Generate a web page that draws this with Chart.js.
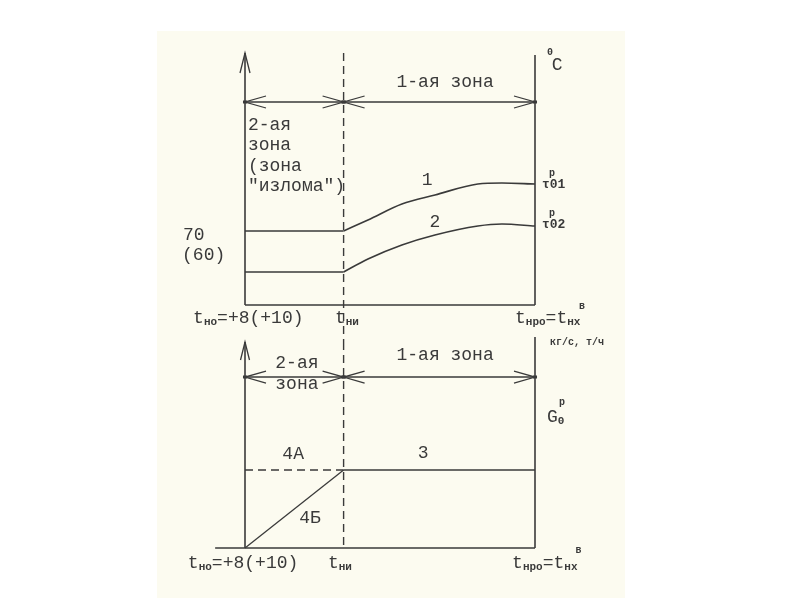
<!DOCTYPE html>
<html>
<head>
<meta charset="utf-8">
<script src="https://cdn.jsdelivr.net/npm/chart.js@4.4.0/dist/chart.umd.min.js"></script>
<style>
  body { margin: 0; width: 800px; height: 600px; background: #fff; position: relative; overflow: hidden; }
  #paper { position: absolute; left: 157px; top: 31px; width: 468px; height: 567px; background: #fcfbf0; }
  canvas { position: absolute; left: 0; top: 0; }
</style>
</head>
<body>
<div id="paper"></div>
<canvas id="grTop" width="800" height="600"></canvas>
<canvas id="grBot" width="800" height="600"></canvas>
<script>
// ось наружной температуры в условных единицах: tно = 0, tни = 3.4, tнро = 10
const xTicks = [0, 3.4, 10];
const xLeftExt = -1.03;

// верхний график - температура воды (условные единицы)
const flatX = [0, 3.4];
const tau01Flat = [37, 37];
const tau02Flat = [16.5, 16.5];
const curveX = [3.4, 4.24, 5.41, 6.55, 8.03, 8.86, 10];
const tau01 = [37, 42.5, 50.5, 55, 60.5, 61, 60.5];
const tau02 = [16.5, 23, 30, 35, 39.5, 40.5, 39.5];
const topAxisMax = 126;
const topRightMax = 125;
const topDim = 101.5;

// нижний график - расход
const flowConst = 39;      // линии 3 и 4А
const botAxisMax = 103;
const botRightMax = 105.5;
const botDim = 85.5;

const INK = '#3a3a3a';
const MONO = '"Liberation Mono", "DejaVu Sans Mono", monospace';

function seg(xs, ys, extra) {
  return Object.assign({
    data: xs.map((v, i) => ({ x: v, y: ys[i] })),
    borderColor: INK,
    borderWidth: 1.6,
    pointRadius: 0,
    fill: false,
    clip: false,
    tension: 0
  }, extra || {});
}

const fonts = {
  n: '18px ' + MONO,
  s: 'bold 11px ' + MONO,
  p: 'bold 10px ' + MONO,
  b: 'bold 13px ' + MONO,
  k: 'bold 10px ' + MONO
};

function drawRich(ctx, x, y, parts, align) {
  let w = 0;
  parts.forEach(p => { ctx.font = fonts[p[1]]; w += ctx.measureText(p[0]).width; });
  let cx = align === 'center' ? x - w / 2 : x;
  parts.forEach(p => {
    ctx.font = fonts[p[1]];
    ctx.textBaseline = 'middle';
    ctx.textAlign = 'left';
    const dy = p[1] === 's' ? 4 : 0;
    ctx.fillText(p[0], cx, y + dy);
    cx += ctx.measureText(p[0]).width;
  });
}

const drawings = {
  id: 'drawings',
  afterDatasetsDraw(chart, args, opts) {
    const { ctx } = chart;
    const sx = chart.scales.x, sy = chart.scales.y;
    ctx.save();
    ctx.strokeStyle = INK;
    ctx.fillStyle = INK;
    ctx.lineWidth = 1.3;
    (opts.arrows || []).forEach(a => {
      const px = sx.getPixelForValue(a.x), py = sy.getPixelForValue(a.y);
      ctx.beginPath();
      if (a.dir === 'up') {
        ctx.moveTo(px - a.w, py + a.l); ctx.lineTo(px, py); ctx.lineTo(px + a.w, py + a.l);
      } else {
        const s = a.dir === 'left' ? 1 : -1;
        ctx.moveTo(px + s * 21, py - 6); ctx.lineTo(px, py); ctx.lineTo(px + s * 21, py + 6);
        ctx.fillRect(px - 2, py - 1.5, 4, 3);
      }
      ctx.stroke();
    });
    (opts.texts || []).forEach(t => {
      drawRich(ctx, sx.getPixelForValue(t.x), sy.getPixelForValue(t.y), t.parts, t.align);
    });
    ctx.restore();
  }
};

function baseOptions(pad, yMax, extras) {
  return {
    responsive: false,
    animation: false,
    events: [],
    layout: { padding: pad },
    scales: {
      x: { type: 'linear', min: 0, max: 10, display: false },
      y: { type: 'linear', min: 0, max: yMax, display: false }
    },
    plugins: {
      legend: { display: false },
      tooltip: { enabled: false },
      drawings: extras
    }
  };
}

function dimArrows(yv) {
  return [
    { x: xTicks[0], y: yv, dir: 'left' },
    { x: xTicks[1], y: yv, dir: 'right' },
    { x: xTicks[1], y: yv, dir: 'left' },
    { x: xTicks[2], y: yv, dir: 'right' }
  ];
}

// ----- верхний график: температура -----
new Chart(document.getElementById('grTop'), {
  type: 'line',
  data: {
    datasets: [
      seg([xTicks[0], xTicks[0]], [0, topAxisMax]),
      seg([xTicks[2], xTicks[2]], [0, topRightMax]),
      seg([xTicks[0], xTicks[2]], [0, 0]),
      seg([xTicks[0], xTicks[2]], [topDim, topDim], { borderWidth: 1.4 }),
      seg([xTicks[1], xTicks[1]], [topAxisMax, -18.5], { borderDash: [8, 5], borderWidth: 1.4 }),
      seg(flatX, tau01Flat),
      seg(flatX, tau02Flat),
      seg(curveX, tau01, { cubicInterpolationMode: 'monotone' }),
      seg(curveX, tau02, { cubicInterpolationMode: 'monotone' })
    ]
  },
  options: baseOptions({ left: 245, right: 265, top: 53, bottom: 295 }, topAxisMax, {
    arrows: [{ x: xTicks[0], y: topAxisMax, dir: 'up', w: 5, l: 20 }].concat(dimArrows(topDim)),
    texts: [
      { x: 6.9, y: 111.5, align: 'center', parts: [['1-ая зона', 'n']] },
      { x: 10.52, y: 126.5, align: 'center', parts: [['0', 'p']] },
      { x: 10.76, y: 120, align: 'center', parts: [['C', 'n']] },
      { x: 0.1, y: 90, parts: [['2-ая', 'n']] },
      { x: 0.1, y: 80, parts: [['зона', 'n']] },
      { x: 0.1, y: 69.5, parts: [['(зона', 'n']] },
      { x: 0.1, y: 59.5, parts: [['"излома")', 'n']] },
      { x: 6.28, y: 62.5, align: 'center', parts: [['1', 'n']] },
      { x: 6.55, y: 41.5, align: 'center', parts: [['2', 'n']] },
      { x: -2.14, y: 35, parts: [['70', 'n']] },
      { x: -2.17, y: 25, parts: [['(60)', 'n']] },
      { x: 10.24, y: 60, parts: [['τ01', 'b']] },
      { x: 10.59, y: 66, align: 'center', parts: [['р', 'p']] },
      { x: 10.24, y: 40, parts: [['τ02', 'b']] },
      { x: 10.59, y: 46, align: 'center', parts: [['р', 'p']] },
      { x: -1.79, y: -6.5, parts: [['t', 'n'], ['но', 's'], ['=+8(+10)', 'n']] },
      { x: 3.1, y: -6.5, parts: [['t', 'n'], ['ни', 's']] },
      { x: 9.31, y: -6.5, parts: [['t', 'n'], ['нро', 's'], ['=t', 'n'], ['нх', 's']] },
      { x: 11.62, y: -0.5, align: 'center', parts: [['в', 'p']] }
    ]
  }),
  plugins: [drawings]
});

// ----- нижний график: расход -----
new Chart(document.getElementById('grBot'), {
  type: 'line',
  data: {
    datasets: [
      seg([xTicks[0], xTicks[0]], [0, botAxisMax]),
      seg([xTicks[2], xTicks[2]], [0, botRightMax]),
      seg([xLeftExt, xTicks[2]], [0, 0]),
      seg([xTicks[0], xTicks[2]], [botDim, botDim], { borderWidth: 1.4 }),
      seg([xTicks[1], xTicks[1]], [botAxisMax, 0], { borderDash: [8, 5], borderWidth: 1.4 }),
      seg([xTicks[1], xTicks[2]], [flowConst, flowConst]),
      seg([xTicks[0], xTicks[1]], [flowConst, flowConst], { borderDash: [8, 5], borderWidth: 1.4 }),
      seg([xTicks[0], xTicks[1]], [0, flowConst], { borderWidth: 1.3 })
    ]
  },
  options: baseOptions({ left: 245, right: 265, top: 342, bottom: 52 }, botAxisMax, {
    arrows: [{ x: xTicks[0], y: botAxisMax, dir: 'up', w: 4.5, l: 18 }].concat(dimArrows(botDim)),
    texts: [
      { x: 1.79, y: 92.5, align: 'center', parts: [['2-ая', 'n']] },
      { x: 1.79, y: 82, align: 'center', parts: [['зона', 'n']] },
      { x: 6.9, y: 96.5, align: 'center', parts: [['1-ая зона', 'n']] },
      { x: 10.52, y: 103, parts: [['кг/с, т/ч', 'k']] },
      { x: 10.41, y: 65.5, parts: [['G', 'n'], ['0', 's']] },
      { x: 10.93, y: 73, align: 'center', parts: [['р', 'p']] },
      { x: 1.66, y: 47, align: 'center', parts: [['4А', 'n']] },
      { x: 6.14, y: 47.5, align: 'center', parts: [['3', 'n']] },
      { x: 2.24, y: 15, align: 'center', parts: [['4Б', 'n']] },
      { x: -1.97, y: -7.5, parts: [['t', 'n'], ['но', 's'], ['=+8(+10)', 'n']] },
      { x: 2.86, y: -7.5, parts: [['t', 'n'], ['ни', 's']] },
      { x: 9.21, y: -7.5, parts: [['t', 'n'], ['нро', 's'], ['=t', 'n'], ['нх', 's']] },
      { x: 11.5, y: -1, align: 'center', parts: [['в', 'p']] }
    ]
  }),
  plugins: [drawings]
});
</script>
</body>
</html>
